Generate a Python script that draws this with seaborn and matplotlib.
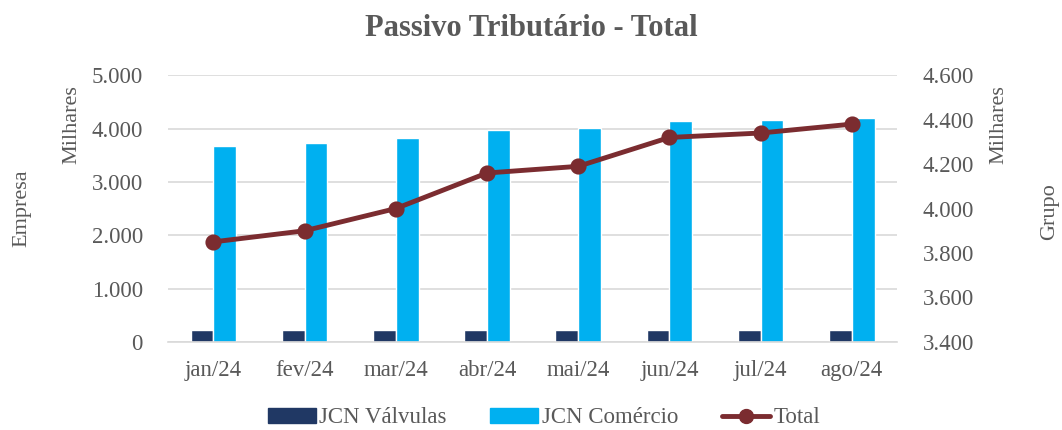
import pandas as pd
import numpy as np
import matplotlib
matplotlib.use("Agg")
import matplotlib.pyplot as plt
from matplotlib.ticker import FuncFormatter, FixedLocator
from matplotlib.lines import Line2D
import seaborn as sns

meses = ["jan/24", "fev/24", "mar/24", "abr/24", "mai/24", "jun/24", "jul/24", "ago/24"]
valvulas = [215, 215, 215, 220, 220, 220, 220, 215]
comercio = [3675, 3725, 3820, 3975, 4005, 4140, 4160, 4200]
total = [3850, 3900, 4000, 4160, 4190, 4320, 4340, 4380]

series = ["JCN Válvulas", "JCN Comércio"]
cores = ["#203864", "#00B0F0"]
cor_total = "#7B2C30"
cinza = "#595959"
grade = "#D9D9D9"

df = pd.DataFrame({
    "mes": meses * 2,
    "valor": valvulas + comercio,
    "serie": [series[0]] * len(meses) + [series[1]] * len(meses),
})

sns.set_theme(style="white")
plt.rcParams["font.family"] = ["Liberation Serif", "DejaVu Serif"]

fig = plt.figure(figsize=(10.62, 4.30), dpi=100)
ax = fig.add_axes([0.158, 0.205, 0.687, 0.620])

sns.barplot(data=df, x="mes", y="valor", hue="serie", order=meses, hue_order=series,
            palette=cores, width=0.5, gap=0, ax=ax, legend=False, saturation=1)

ax.set_ylim(0, 5000)
ax.set_yticks(range(0, 5001, 1000))
fmt = FuncFormatter(lambda v, p: f"{int(v):,}".replace(",", "."))
ax.yaxis.set_major_formatter(fmt)
ax.grid(axis="y", color=grade, linewidth=1.2)
ax.set_axisbelow(True)
ax.set_xlabel("")
ax.set_ylabel("")
for s in ["top", "left", "right"]:
    ax.spines[s].set_visible(False)
ax.spines["bottom"].set_color(grade)
ax.spines["bottom"].set_linewidth(1.2)
ax.set_xlim(-0.5, len(meses) - 0.5)
ax.xaxis.set_minor_locator(FixedLocator(np.arange(-0.5, len(meses), 1)))
ax.tick_params(axis="x", which="major", length=0, labelsize=16.5, labelcolor=cinza, pad=13)
ax.tick_params(axis="x", which="minor", length=6, color=grade, width=1.2, direction="out")
ax.tick_params(axis="y", length=0, labelsize=16.5, labelcolor=cinza, pad=18)

ax2 = ax.twinx()
sns.pointplot(x=meses, y=total, ax=ax2, color=cor_total, markers="o",
              linestyles="-", linewidth=3.5, markersize=9, errorbar=None)
ax2.set_ylim(3400, 4600)
ax2.set_yticks(range(3400, 4601, 200))
ax2.yaxis.set_major_formatter(fmt)
ax2.set_xlim(-0.5, len(meses) - 0.5)
ax2.set_ylabel("")
for s in ["top", "left", "right", "bottom"]:
    ax2.spines[s].set_visible(False)
ax2.tick_params(axis="y", length=0, labelsize=16.5, labelcolor=cinza, pad=18)

fig.text(0.5, 0.933, "Passivo Tributário - Total", ha="center", va="center",
         fontsize=22, fontweight="bold", color=cinza)
fig.text(0.068, 0.802, "Milhares", rotation=90, ha="center", va="top", fontsize=16, color=cinza)
fig.text(0.021, 0.515, "Empresa", rotation=90, ha="center", va="center", fontsize=16, color=cinza)
fig.text(0.941, 0.802, "Milhares", rotation=90, ha="center", va="top", fontsize=16, color=cinza)
fig.text(0.988, 0.509, "Grupo", rotation=90, ha="center", va="center", fontsize=16, color=cinza)

handles = [
    plt.Rectangle((0, 0), 1, 1, color=cores[0]),
    plt.Rectangle((0, 0), 1, 1, color=cores[1]),
    Line2D([0], [0], color=cor_total, linewidth=3.5, marker="o", markersize=10),
]
leg = fig.legend(handles, series + ["Total"], loc="center", bbox_to_anchor=(0.512, 0.028),
                 ncol=3, frameon=False, fontsize=16.5, handlelength=2.1, handleheight=0.6,
                 columnspacing=1.9, handletextpad=0.15)
for t in leg.get_texts():
    t.set_color(cinza)

fig.savefig("out.png", dpi=100)
